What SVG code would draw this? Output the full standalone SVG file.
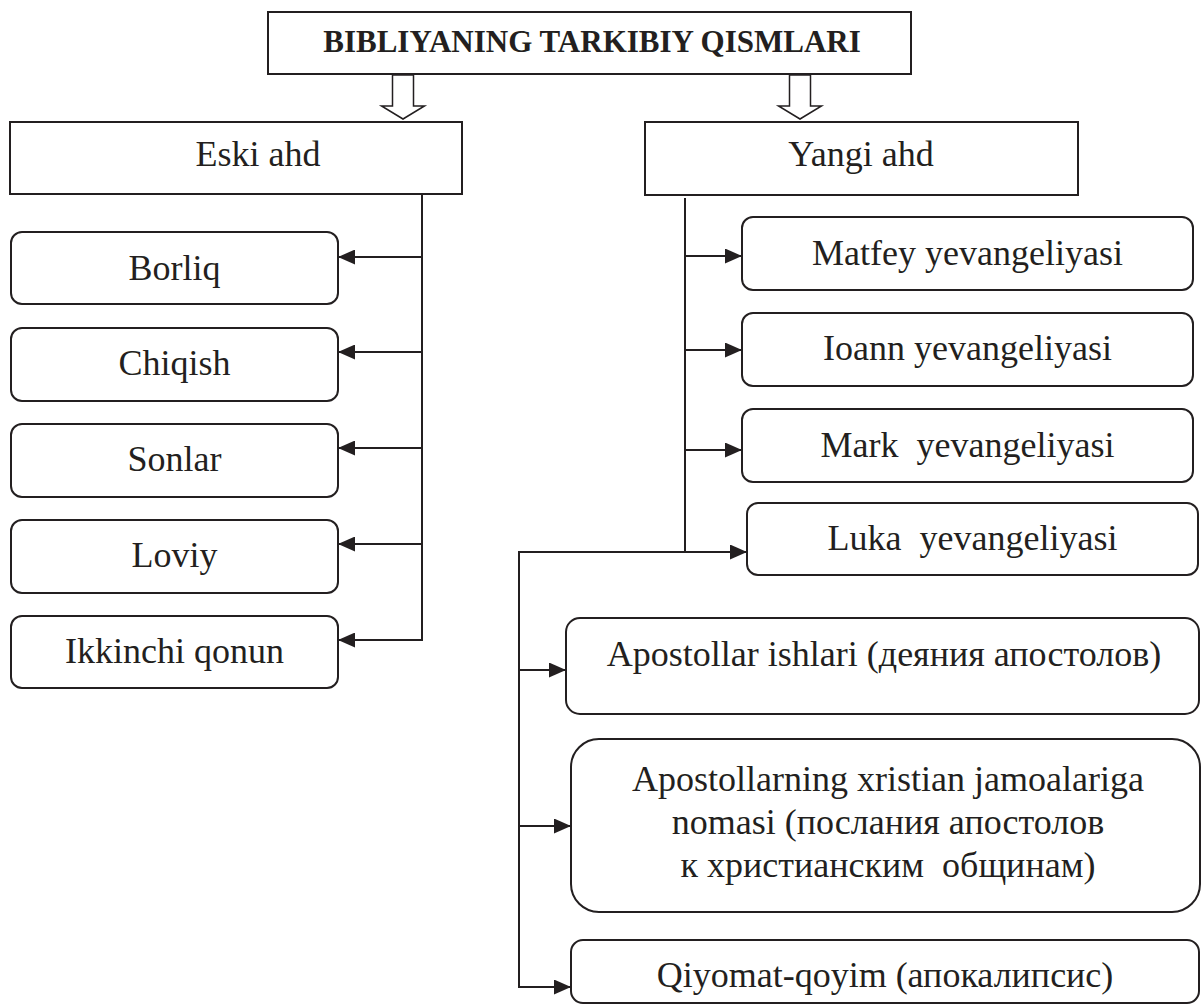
<svg xmlns="http://www.w3.org/2000/svg" width="1202" height="1005" viewBox="0 0 1202 1005">
<style>
.box{fill:#fff;stroke:#231f20;stroke-width:2}
.blk{fill:#fff;stroke:#231f20;stroke-width:1.5}
.ln{fill:none;stroke:#231f20;stroke-width:2}
.t{font-family:"Liberation Serif","Times New Roman",serif;font-size:36px;fill:#231f20;text-anchor:middle;white-space:pre}
.title{font-family:"Liberation Serif","Times New Roman",serif;font-size:31px;font-weight:bold;fill:#231f20;text-anchor:middle}
</style>
<defs>
<marker id="ah" markerUnits="userSpaceOnUse" markerWidth="17" markerHeight="15" refX="17" refY="7.5" orient="auto">
<path d="M0,0 L17,7.5 L0,15 z" fill="#231f20"/>
</marker>
</defs>
<g id="title">
<rect class="box" x="268" y="12" width="643" height="62"/>
<text class="title" x="592" y="52">BIBLIYANING TARKIBIY QISMLARI</text>
</g>
<g id="block-arrows">
<polygon class="blk" points="392.5,75 413.5,75 413.5,106 424.5,106 403,119 381.5,106 392.5,106"/>
<polygon class="blk" points="789.5,75 810.5,75 810.5,106 821.5,106 800,119 778.5,106 789.5,106"/>
</g>
<g id="eski">
<rect class="box" x="10" y="122" width="452" height="72"/>
<text class="t" x="258" y="166">Eski ahd</text>
</g>
<g id="yangi">
<rect class="box" x="645" y="122" width="433" height="73"/>
<text class="t" x="861" y="166">Yangi ahd</text>
</g>
<g id="borliq"><rect class="box" x="11" y="232" width="327" height="72" rx="11"/><text class="t" x="174.5" y="280">Borliq</text></g>
<g id="chiqish"><rect class="box" x="11" y="328" width="327" height="73" rx="11"/><text class="t" x="174.5" y="375">Chiqish</text></g>
<g id="sonlar"><rect class="box" x="11" y="424" width="327" height="73" rx="11"/><text class="t" x="174.5" y="471">Sonlar</text></g>
<g id="loviy"><rect class="box" x="11" y="520" width="327" height="73" rx="11"/><text class="t" x="174.5" y="567">Loviy</text></g>
<g id="ikkinchi"><rect class="box" x="11" y="616" width="327" height="72" rx="11"/><text class="t" x="174.5" y="663">Ikkinchi qonun</text></g>
<g id="matfey"><rect class="box" x="742" y="217" width="451" height="73" rx="11"/><text class="t" x="967.5" y="265">Matfey yevangeliyasi</text></g>
<g id="ioann"><rect class="box" x="742" y="313" width="451" height="73" rx="11"/><text class="t" x="967.5" y="360">Ioann yevangeliyasi</text></g>
<g id="mark"><rect class="box" x="742" y="409" width="451" height="73" rx="11"/><text class="t" x="967.5" y="457">Mark  yevangeliyasi</text></g>
<g id="luka"><rect class="box" x="747" y="503" width="451" height="72" rx="11"/><text class="t" x="972.5" y="550">Luka  yevangeliyasi</text></g>
<g id="apostollar"><rect class="box" x="566" y="618" width="633" height="96" rx="14"/><text class="t" x="884" y="666">Apostollar ishlari (деяния апостолов)</text></g>
<g id="nomasi"><rect class="box" x="571" y="739" width="629" height="173" rx="28"/>
<text class="t" x="888" y="791">Apostollarning xristian jamoalariga</text>
<text class="t" x="888" y="834">nomasi (послания апостолов</text>
<text class="t" x="888" y="877">к христианским  общинам)</text></g>
<g id="qiyomat"><rect class="box" x="571" y="940" width="628" height="63" rx="12"/><text class="t" x="885" y="987">Qiyomat-qoyim (апокалипсис)</text></g>
<g id="connectors">
<path class="ln" d="M422,194 V641"/>
<path class="ln" d="M422,257 H338" marker-end="url(#ah)"/>
<path class="ln" d="M422,352 H338" marker-end="url(#ah)"/>
<path class="ln" d="M422,448 H338" marker-end="url(#ah)"/>
<path class="ln" d="M422,544 H338" marker-end="url(#ah)"/>
<path class="ln" d="M423,640 H338" marker-end="url(#ah)"/>
<path class="ln" d="M685,198 V553"/>
<path class="ln" d="M685,256 H742" marker-end="url(#ah)"/>
<path class="ln" d="M685,350 H742" marker-end="url(#ah)"/>
<path class="ln" d="M685,450 H742" marker-end="url(#ah)"/>
<path class="ln" d="M519,552 H747" marker-end="url(#ah)"/>
<path class="ln" d="M519,551 V988"/>
<path class="ln" d="M519,670 H566" marker-end="url(#ah)"/>
<path class="ln" d="M519,826 H571" marker-end="url(#ah)"/>
<path class="ln" d="M519,987 H571" marker-end="url(#ah)"/>
</g>
</svg>
